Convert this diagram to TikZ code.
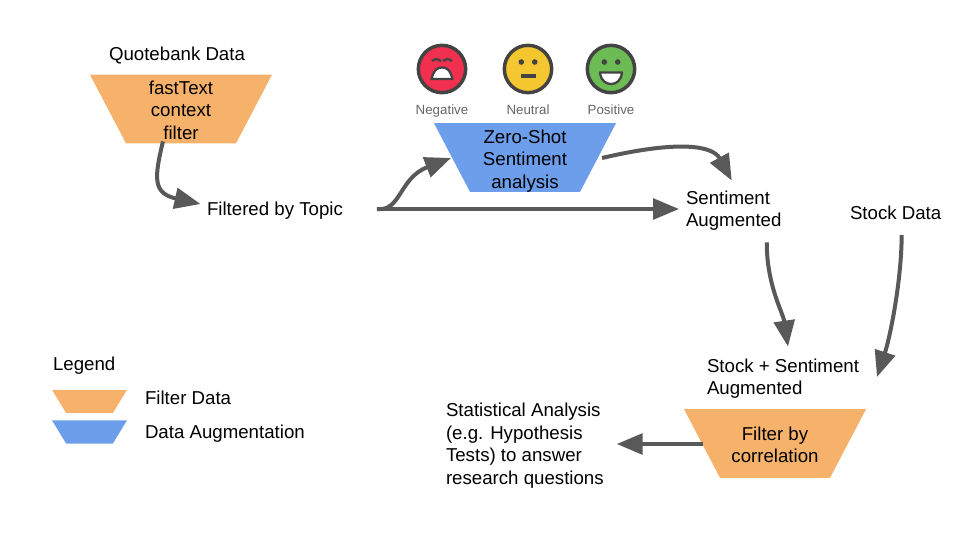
\documentclass[tikz,border=0pt]{standalone}
\usepackage{fontspec}
\setmainfont{Liberation Sans}
\usepackage{tikz}
\usetikzlibrary{arrows.meta, positioning, shapes.geometric, calc}

\definecolor{filterorange}{HTML}{F6B26B}
\definecolor{augblue}{HTML}{6D9EEB}
\definecolor{arrowgrey}{HTML}{595959}
\definecolor{facedark}{HTML}{434343}
\definecolor{facered}{HTML}{F0304E}
\definecolor{faceyellow}{HTML}{F4C62F}
\definecolor{facegreen}{HTML}{6CBB55}

\tikzset{
    funnel/.style={trapezium, shape border rotate=180, trapezium stretches=true,
        trapezium left angle=71.9, trapezium right angle=71.9, inner sep=1pt, outer sep=0pt,
        minimum width=136.5pt, minimum height=51.5pt},
    keyfunnel/.style={funnel, trapezium left angle=73, trapezium right angle=73,
        minimum width=56.25pt, minimum height=17.5pt},
    funneltxt/.style={align=center, inner sep=0pt},
    txt/.style={inner sep=0pt, outer sep=0pt, align=left},
    facelabel/.style={inner sep=0pt, text=black!60, text height=7.5pt, text depth=2pt,
        font=\fontsize{10}{12}\selectfont},
    flow/.style={draw=arrowgrey, line width=3pt,
        -{Triangle[length=19.5pt, width=15.5pt, fill=arrowgrey]}},
}

\begin{document}
\begin{tikzpicture}[x=0.75pt, y=-0.75pt, font=\fontsize{14}{16.9}\selectfont]
    \useasboundingbox (0,0) rectangle (960,540);

    % Funnels
    \node[funnel, fill=filterorange, label={[funneltxt, yshift=-0.7pt]center:fastText\\context\\filter}] (context) at (181,109) {};
    \node[funnel, fill=augblue, label={[funneltxt, yshift=-2.6pt]center:Zero-Shot\\Sentiment\\analysis}] (zeroshot) at (525,157.5) {};
    \node[funnel, fill=filterorange, label={[funneltxt, yshift=-1.1pt]center:Filter by\\correlation}] (corr) at (775,443.5) {};

    % Text nodes
    \node[txt] (quote) at (177,55) {Quotebank Data};
    \node[txt, anchor=west] (topic) at (207,211) {Filtered by Topic};
    \node[txt, anchor=west] (senti) at (686,210.5) {Sentiment\\Augmented};
    \node[txt, anchor=west] (stock) at (850,213) {Stock Data};
    \node[txt, anchor=west] (both) at (707,378.5) {Stock + Sentiment\\Augmented};
    \node[txt, anchor=west] (stats) at (446,445.5) {Statistical Analysis\\(e.g. Hypothesis\\Tests) to answer\\research questions};

    % Faces
    \foreach \nm/\fx/\col/\lab in {neg/442/facered/Negative, neu/528/faceyellow/Neutral, pos/611/facegreen/Positive} {
        \node[circle, draw=facedark, line width=2.6pt, fill=\col, minimum size=35.5pt, inner sep=0pt] (\nm face) at (\fx,69) {};
        \node[facelabel] (\nm label) at (\fx,111) {\lab};
    }
    % Negative face
    \draw[facedark, line width=1.7pt] ($(negface)+(-10,-8)$) .. controls ($(negface)+(-6,-11)$) and ($(negface)+(-3,-10)$) .. ($(negface)+(-1,-8)$);
    \draw[facedark, line width=1.7pt] ($(negface)+(10,-8)$) .. controls ($(negface)+(6,-11)$) and ($(negface)+(3,-10)$) .. ($(negface)+(1,-8)$);
    \draw[facedark, line width=1.7pt, fill=white, line join=round] ($(negface)+(-10.5,10)$) .. controls ($(negface)+(-8,0)$) and ($(negface)+(-4,-1.5)$) .. ($(negface)+(0,-1.5)$) .. controls ($(negface)+(4,-1.5)$) and ($(negface)+(8,0)$) .. ($(negface)+(10.5,10)$) -- cycle;
    % Neutral face
    \fill[facedark] ($(neuface)+(-6.7,-7)$) circle (2.8) ($(neuface)+(6.7,-7)$) circle (2.8);
    \fill[facedark] ($(neuface)+(-7.5,5)$) rectangle ($(neuface)+(7.5,8.5)$);
    % Positive face
    \fill[facedark] ($(posface)+(-6.7,-7)$) circle (2.8) ($(posface)+(6.7,-7)$) circle (2.8);
    \draw[facedark, line width=1.7pt, fill=white, line join=round] ($(posface)+(-11,3.5)$) -- ($(posface)+(11,3.5)$) .. controls ($(posface)+(10,12)$) and ($(posface)+(5,15)$) .. ($(posface)+(0,15)$) .. controls ($(posface)+(-5,15)$) and ($(posface)+(-10,12)$) .. cycle;

    % Arrows
    \draw[flow] ($(context.south)+(-18,-2)$) .. controls ($(context.south)+(-27,35)$) and ($(context.south)+(-28,50)$) .. ($(topic.west)+(-6.5,-7)$);
    \draw[flow] ($(topic.east)+(34,-2)$) .. controls ($(topic.east)+(58,1)$) and ($(topic.east)+(56,-33)$) .. ($(zeroshot.west)+(-1,0.5)$);
    \draw[flow] ($(topic.east)+(34,-2)$) -- ($(senti.west)+(-7,-1.5)$);
    \draw[flow] ($(zeroshot.east)+(4,0.5)$) .. controls ($(zeroshot.east)+(81,-17.5)$) and ($(senti.north)+(-21,-45)$) .. ($(senti.north)+(-2,-10)$);
    \draw[flow] ($(senti.south)+(33,12)$) .. controls ($(senti.south)+(33,55)$) and ($(both.north)+(0,-46)$) .. ($(both.north)+(5,-12)$);
    \draw[flow] ($(stock.south)+(6,15)$) .. controls ($(stock.south)+(6,60)$) and ($(stock.south)+(-5.5,117)$) .. ($(both.east)+(18,-1.5)$);
    \draw[flow] ($(corr.west)+(1,0.5)$) -- ($(stats.east)+(13,-1.5)$);

    % Legend
    \node[txt, anchor=west] (legend) at (53,366) {Legend};
    \node[keyfunnel, fill=filterorange] (keyfilter) at (89.5,401.5) {};
    \node[keyfunnel, fill=augblue] (keyaug) at (89.5,432) {};
    \node[txt, anchor=west] (keyfiltertxt) at (145,398) {Filter Data};
    \node[txt, anchor=west] (keyaugtxt) at (145,434) {Data Augmentation};
\end{tikzpicture}
\end{document}
